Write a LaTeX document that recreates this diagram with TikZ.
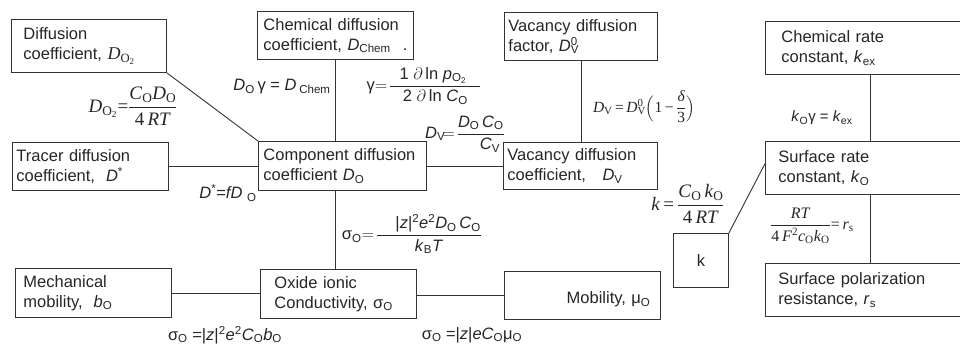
\documentclass[tikz,border=0pt]{standalone}
\usepackage{fix-cm}
\usepackage{amsmath}
\usepackage{fontspec}
\setmainfont{Liberation Sans}
\newfontfamily\tms{Liberation Serif}
\usetikzlibrary{calc}
\newcommand\sbs[1]{\textsubscript{#1}}
\newcommand\spb[2]{\makebox[0pt][l]{\textsuperscript{#1}}\textsubscript{#2}}
\begin{document}
\begin{tikzpicture}[x=1pt,y=-1pt,
  every node/.style={text=black!85},
  bx/.style={draw=black!80, line width=0.9pt, anchor=north west, align=left,
    font=\fontsize{16.5}{20}\selectfont, inner ysep=0pt},
  lab/.style={font=\fontsize{16.5}{20}\selectfont, inner sep=0pt},
  ln/.style={draw=black!80, line width=0.9pt}]
\clip (0,0) rectangle (960,345);
\fill[white] (0,0) rectangle (960,345);
% boxes
\node[bx, text width=131, inner xsep=12, minimum height=53] (dif) at (11,19)
  {Diffusion\\coefficient, {\tms\fontsize{18}{20}\selectfont\textit{D}\sbs{O\textsubscript{2}}}};
\node[bx, text width=144, inner xsep=6, minimum height=48] (chem) at (257,11)
  {Chemical diffusion\\coefficient, \textit{D}\sbs{Chem}\hfill.};
\node[bx, text width=145, inner xsep=4, minimum height=48] (vf) at (504,12)
  {Vacancy diffusion\\factor, \textit{D}\spb{0}{V}};
\node[bx, text width=178, inner xsep=16, minimum height=53] (cr) at (765,21)
  {Chemical rate\\constant, \textit{k}\sbs{ex}};
\node[bx, text width=148, inner xsep=4, minimum height=48] (tr) at (12,142)
  {Tracer diffusion\\coefficient,\ \ \textit{D}\textsuperscript{*}};
\node[bx, text width=158, inner xsep=5, minimum height=49] (comp) at (258,141)
  {Component diffusion\\coefficient \textit{D}\sbs{O}};
\node[bx, text width=146, inner xsep=4, minimum height=47] (vc) at (503,142)
  {Vacancy diffusion\\coefficient,\ \ \ \textit{D}\sbs{V}};
\node[bx, text width=184, inner xsep=13, minimum height=53] (sr) at (765,141)
  {Surface rate\\constant, \textit{k}\sbs{O}};
\node[bx, align=center, inner xsep=0, minimum width=55, minimum height=54] (kb) at (673,233) {k};
\node[bx, text width=184, inner xsep=13, minimum height=53] (spr) at (765,263)
  {Surface polarization\\resistance, \textit{r}\sbs{s}};
\node[bx, text width=140, inner xsep=8, minimum height=49] (mech) at (15,268)
  {Mechanical\\mobility,\ \ \textit{b}\sbs{O}};
\node[bx, text width=128, inner xsep=14, minimum height=49] (ox) at (260,269)
  {Oxide ionic\\Conductivity, σ\sbs{O}};
\node[bx, align=right, text width=136, inner xsep=10, minimum height=48] (mob) at (504,271)
  {\mbox{}\\Mobility, μ\sbs{O}};
% connectors
\draw[ln] (dif.south east) -- (comp.north west);
\draw[ln] (chem.south) -- (chem.south |- comp.north);
\draw[ln] (vf.south) -- (vf.south |- vc.north);
\draw[ln] (tr.east) -- (tr.east -| comp.west);
\draw[ln] (comp.east) -- (comp.east -| vc.west);
\draw[ln] (chem.south |- comp.south) -- (chem.south |- ox.north);
\draw[ln] (mech.east) -- (mech.east -| ox.west);
\draw[ln] (mob.west -| ox.east) -- (mob.west);
\draw[ln] (cr.south) -- (sr.north);
\draw[ln] (sr.south) -- (spr.north);
\draw[ln] (kb.north east) -- ($(sr.north west)!0.42!(sr.south west)$);
% labels
\node[lab, font=\tms\fontsize{19}{22}\selectfont] (fdo2) at (133,106)
  {\textit{D}\sbs{O\textsubscript{2}}=$\dfrac{\text{\textit{C}\sbs{O}\textit{D}\sbs{O}}}{\text{4\,\textit{RT}}}$};
\node[lab] (fchem) at (282,87)
  {\textit{D}\sbs{O}\,γ = \textit{D}\,\sbs{Chem}};
\node[lab] (fgam) at (424,86)
  {γ$=\!\dfrac{\text{\ \ 1 $\partial$\,ln \textit{p}\sbs{O\textsubscript{2}}\ \ \ }}{\text{2 $\partial$\,ln \textit{C}\sbs{O}}}$};
\node[lab] (fdv) at (465,134)
  {\textit{D}\sbs{V}$\!=\!\dfrac{\text{\textit{D}\sbs{O}\,\textit{C}\sbs{O}}}{\text{\ \ \ \ \textit{C}\sbs{V}}}$};
\node[lab, font=\tms\fontsize{15.5}{18}\selectfont] (fdv0) at (644,107)
  {\textit{D}\sbs{V}\,=\,\textit{D}\spb{0}{V}$\Bigl($1\,−\,$\dfrac{\text{\textit{δ}}}{\text{3}}\Bigr)$};
\node[lab, font=\tms\fontsize{19}{22}\selectfont] (fk) at (688,204)
  {\textit{k}\,=\,$\dfrac{\text{\textit{C}\sbs{O}\,\textit{k}\sbs{O}}}{\text{4\,\textit{RT}}}$};
\node[lab, font=\fontsize{15}{18}\selectfont] (fkex) at (822,118)
  {\textit{k}\sbs{O}γ = \textit{k}\sbs{ex}};
\node[lab, font=\tms\fontsize{16}{18}\selectfont] (frs) at (812,226)
  {$\dfrac{\text{\textit{RT}}}{\text{4\,\textit{F}\textsuperscript{2}\textit{c}\sbs{O}\textit{k}\sbs{O}}}$=\,\textit{r}\sbs{s}};
\node[lab] (fdstar) at (228,193)
  {\textit{D}\textsuperscript{*}=\textit{fD}\ \sbs{O}};
\node[lab] (fsig) at (412,234)
  {σ\sbs{O}$=\!\dfrac{\text{\ \ \ \ |\textit{z}|\textsuperscript{2}\textit{e}\textsuperscript{2}\textit{D}\sbs{O}\,\textit{C}\sbs{O}}}{\text{\textit{k}\sbs{B}\textit{T}}}$};
\node[lab] (fsb) at (225,335)
  {σ\sbs{O} =|\textit{z}|\textsuperscript{2}\textit{e}\textsuperscript{2}\textit{C}\sbs{O}\textit{b}\sbs{O}};
\node[lab] (fsm) at (472,335)
  {σ\sbs{O} =|\textit{z}|\textit{eC}\sbs{O}μ\sbs{O}};
\end{tikzpicture}
\end{document}
